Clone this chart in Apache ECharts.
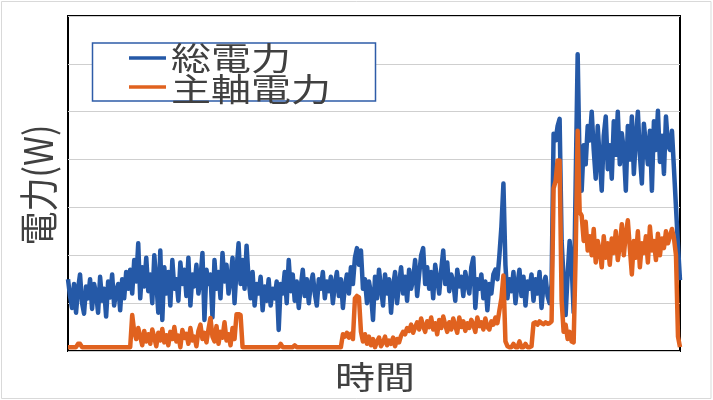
<!DOCTYPE html>
<html>
<head>
<meta charset="utf-8">
<script src="https://cdn.jsdelivr.net/npm/echarts@6/dist/echarts.min.js"></script>
<style>
  html, body { margin: 0; padding: 0; background: #fff; }
  #chart { width: 713px; height: 400px; }
</style>
</head>
<body>
<div id="chart"></div>
<script>
// ---- data (power values, arbitrary W units; y-axis 0..700, gridline every 100) ----
const seriesNames = ['総電力', '主軸電力'];
const xAxisTitle = '時間';
const yAxisTitle = '電力(W)';

const totalPower = [
  150,115,90,140,80,130,160,100,78,135,
  110,150,88,140,120,80,155,105,130,72,
  145,112,160,95,125,140,85,150,110,165,
  130,170,120,190,145,225,110,175,135,195,
  125,160,100,200,145,80,210,65,175,120,
  165,95,190,130,150,105,185,140,170,115,
  195,95,160,135,180,120,150,205,65,170,
  140,160,70,190,130,165,110,205,145,180,
  120,150,195,100,170,225,140,190,130,220,
  150,110,165,95,140,120,155,85,135,105,
  150,95,130,110,145,44,140,120,165,100,
  190,125,160,105,145,90,135,170,115,150,
  100,140,160,120,95,150,130,165,110,145,
  125,155,100,140,165,115,150,90,135,160,
  120,175,140,195,215,180,210,130,150,100,
  145,120,65,155,110,170,130,95,160,120,
  150,80,135,165,100,140,175,120,155,105,
  170,130,150,190,115,160,200,215,140,175,
  130,165,110,180,150,120,170,210,140,185,
  125,160,145,105,170,135,155,115,165,140,
  120,175,195,90,150,130,160,110,145,85,
  140,120,160,170,150,200,260,350,180,110,
  150,125,165,100,140,170,115,155,95,145,
  130,160,105,150,120,165,90,140,155,115,
  100,140,454,440,470,485,230,150,75,160,
  230,180,80,350,620,380,335,430,390,470,
  440,500,420,360,470,400,335,450,490,380,
  430,360,480,410,500,390,455,420,335,470,
  400,490,370,445,500,410,350,475,430,390,
  460,335,480,420,502,395,450,370,490,430,
  420,460,380,300,220,148
];

const spindlePower = [
  8,8,8,8,8,15,15,8,8,8,
  8,8,8,8,8,8,8,8,8,8,
  8,8,8,8,8,8,8,8,8,8,
  8,8,75,40,25,48,30,12,42,20,
  35,15,45,28,10,38,22,46,18,33,
  12,40,25,50,20,32,8,44,27,36,
  15,48,22,30,10,42,55,25,38,18,
  45,69,30,20,52,15,40,28,60,22,
  35,12,48,25,77,77,75,8,8,8,
  8,8,8,8,8,8,8,8,8,8,
  8,8,8,8,8,8,15,8,8,8,
  8,8,8,12,8,8,8,8,8,8,
  8,8,8,8,8,8,8,8,8,8,
  8,8,8,8,8,8,8,35,30,38,
  28,36,25,110,115,112,40,20,35,15,
  30,12,25,8,20,28,10,18,30,12,
  22,15,28,10,25,18,32,40,35,48,
  42,55,38,50,60,45,68,52,40,62,
  50,70,45,58,35,65,48,72,55,40,
  60,45,68,52,38,70,50,62,42,58,
  48,65,55,40,70,52,60,45,68,50,
  45,62,55,70,58,85,110,158,20,10,
  8,8,15,8,8,20,8,8,15,8,
  8,10,58,60,55,62,58,56,60,57,
  58,62,340,355,398,398,106,40,55,25,
  40,20,18,200,460,290,283,230,270,210,
  240,200,255,185,230,210,175,240,195,225,
  180,235,205,250,190,220,265,200,245,273,
  215,160,230,195,250,175,225,205,240,185,
  260,210,230,190,245,200,235,215,250,225,
  240,255,235,200,30,8
];

const timeSteps = totalPower.map((_, i) => String(i));
const yMin = 0, yMax = 700, yStep = 100;

// ---- styling ----
const blue = '#2559a7';
const orange = '#e0621f';
const textColor = '#404040';
const font = '"Noto Sans CJK JP", "Noto Sans CJK SC", sans-serif';

const chart = echarts.init(document.getElementById('chart'), null, { renderer: 'canvas' });

chart.setOption({
  animation: false,
  backgroundColor: '#ffffff',
  grid: {
    left: 68, right: 33, top: 16, bottom: 49,
    show: true, borderColor: '#000', borderWidth: 2, backgroundColor: 'transparent'
  },
  xAxis: {
    type: 'category',
    data: timeSteps,
    boundaryGap: false,
    axisLine: { show: false },
    axisTick: { show: false },
    axisLabel: { show: false },
    splitLine: { show: false }
  },
  yAxis: {
    type: 'value',
    min: yMin, max: yMax, interval: yStep,
    axisLine: { show: false },
    axisTick: { show: false },
    axisLabel: { show: false },
    splitLine: { show: true, lineStyle: { color: '#cfcfcf', width: 1 } }
  },
  series: [
    {
      name: seriesNames[0], type: 'line', data: totalPower,
      showSymbol: false, symbol: 'none',
      lineStyle: { color: blue, width: 4.5, join: 'round' },
      itemStyle: { color: blue }, z: 2
    },
    {
      name: seriesNames[1], type: 'line', data: spindlePower,
      showSymbol: false, symbol: 'none',
      lineStyle: { color: orange, width: 4.5, join: 'round' },
      itemStyle: { color: orange }, z: 3
    }
  ],
  graphic: [
    { type: 'rect', z: 0, silent: true,
      shape: { x: 1.5, y: 1.5, width: 709.5, height: 397 },
      style: { fill: 'none', stroke: '#d9d9d9', lineWidth: 1 } },
    // legend box
    { type: 'rect', z: 100,
      shape: { x: 92.5, y: 43, width: 283, height: 58 },
      style: { fill: '#fff', stroke: '#2e5ca8', lineWidth: 1.5 } },
    { type: 'line', z: 101,
      shape: { x1: 129, y1: 58, x2: 166, y2: 58 },
      style: { stroke: blue, lineWidth: 3.5 } },
    { type: 'line', z: 101,
      shape: { x1: 129, y1: 87, x2: 166, y2: 87 },
      style: { stroke: orange, lineWidth: 3.5 } },
    { type: 'text', z: 102, x: 171, y: 58, scaleX: 1.25,
      style: { text: seriesNames[0], fontSize: 32, fontFamily: font, fill: textColor,
               align: 'left', verticalAlign: 'middle' } },
    { type: 'text', z: 102, x: 171, y: 89, scaleX: 1.25,
      style: { text: seriesNames[1], fontSize: 32, fontFamily: font, fill: textColor,
               align: 'left', verticalAlign: 'middle' } },
    // axis titles
    { type: 'text', z: 100, x: 375, y: 377, scaleX: 1.25,
      style: { text: xAxisTitle, fontSize: 32, fontFamily: font, fill: textColor,
               align: 'center', verticalAlign: 'middle' } },
    { type: 'text', z: 100, x: 38.5, y: 185, rotation: Math.PI / 2, scaleY: 1.15,
      style: { text: yAxisTitle, fontSize: 34, fontFamily: font, fill: textColor,
               align: 'center', verticalAlign: 'middle' } }
  ]
});
</script>
</body>
</html>
